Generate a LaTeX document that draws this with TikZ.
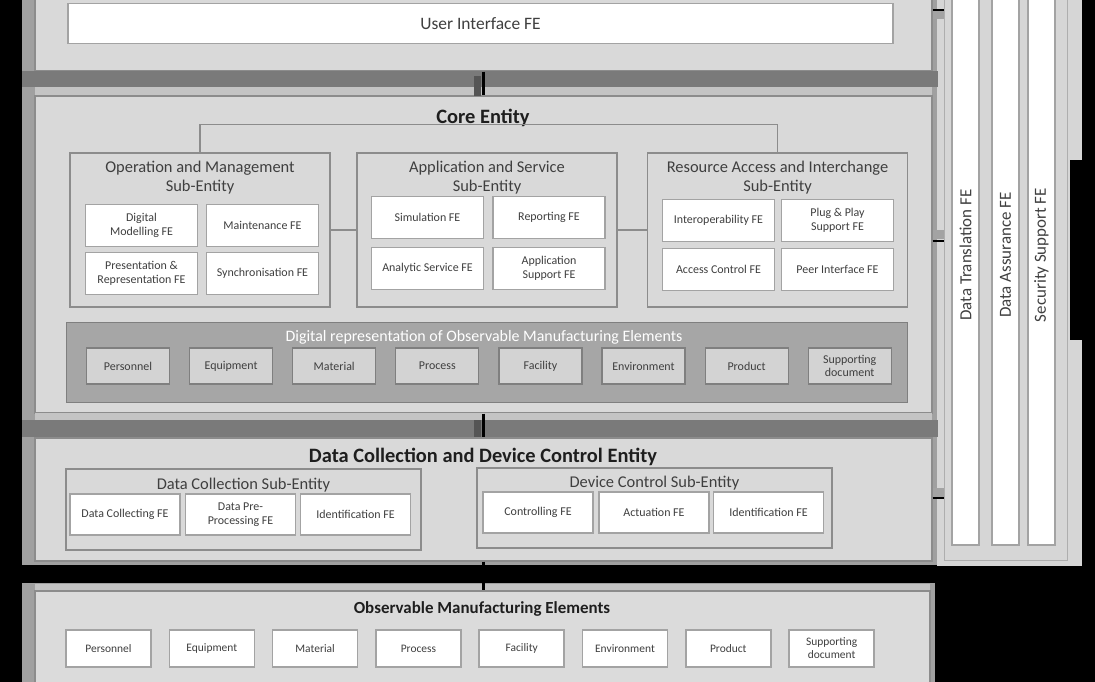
\documentclass[tikz,border=0pt]{standalone}
\usepackage{fontspec}
\setmainfont{Carlito}
\usetikzlibrary{positioning}

\definecolor{panelfill}{HTML}{D9D9D9}
\definecolor{framegray}{HTML}{A0A0A0}
\definecolor{busgray}{HTML}{7A7A7A}
\definecolor{busdark}{HTML}{555555}
\definecolor{edgegray}{HTML}{8C8C8C}
\definecolor{boxgray}{HTML}{A3A3A3}
\definecolor{stripgray}{HTML}{C4C4C4}
\definecolor{drfill}{HTML}{A6A6A6}
\definecolor{drcell}{HTML}{D3D3D3}
\definecolor{drline}{HTML}{7F7F7F}
\definecolor{sidefill}{HTML}{D6D6D6}
\definecolor{txtgray}{HTML}{3F3F3F}
\definecolor{txtdark}{HTML}{1E1E1E}

\begin{document}
\begin{tikzpicture}[x=1bp, y=-1bp,
    panel/.style={draw=edgegray, line width=1.2bp, fill=panelfill, inner sep=0pt},
    sub/.style={draw=edgegray, line width=1.2bp, fill=panelfill, inner sep=0pt},
    fe/.style={draw=boxgray, line width=1.5bp, fill=white, align=center,
      text=txtgray, font=\fontsize{12}{13.5}\selectfont, inner sep=1bp},
    febox/.style={fe, minimum width=112bp, minimum height=42bp},
    dcbox/.style={fe, minimum width=110bp, minimum height=41bp},
    drbox/.style={draw=drline, line width=1.2bp, fill=drcell, align=center,
      text=txtgray, font=\fontsize{12}{13}\selectfont, minimum width=83bp,
      minimum height=36bp, inner sep=1bp},
    omebox/.style={fe, font=\fontsize{11.5}{13}\selectfont,
      minimum width=85bp, minimum height=37bp},
    title/.style={font=\fontsize{20.5}{24}\selectfont\bfseries, text=txtdark},
    subtitle/.style={font=\fontsize{16.5}{20}\selectfont, align=center,
      text=txtgray, inner sep=0pt},
    column/.style={draw=boxgray, line width=1.2bp, fill=white, rotate=90,
      minimum width=580bp, minimum height=27bp, inner sep=0pt, text=txtgray,
      font=\fontsize{17}{20}\selectfont},
    vbus/.style={line width=2.5bp, black},
    tick/.style={line width=2.5bp, black},
    tree/.style={draw=edgegray, line width=1.2bp}]

  \clip (0,0) rectangle (1095,682);
  \fill[black] (0,0) rectangle (1095,682);
  \fill[framegray] (22,-10) rectangle (940,565);
  \fill[sidefill] (937,-10) rectangle (1082,566);
  \draw[edgegray!70] (944,-10) rectangle (1067,560);
  \fill[black] (1070,160) rectangle (1082,340);
  \fill[framegray] (22,583) rectangle (935,690);

  % user interface
  \node[panel, minimum width=897bp, minimum height=81bp] (ui) at (483.5,30.5) {};
  \node[fe, minimum width=825bp, minimum height=40bp,
    font=\fontsize{17.5}{20}\selectfont] (uife) at (480.5,23.5) {User Interface FE};
  \fill[busgray] (22,71) rectangle (938,87);
  \fill[stripgray] (35,87) rectangle (932,96);

  % core
  \node[panel, minimum width=897bp, minimum height=317bp] (core) at (483.5,254.5) {};
  \node[title] (coret) at (483,118) {Core Entity};

  \node[sub, minimum width=260bp, minimum height=154bp] (om) at (200,230) {};
  \node[subtitle, below=8bp of om.north] (omt) {Operation and Management\\Sub-Entity};
  \node[febox] (dm) at (141.5,225.5) {Digital\\Modelling FE};
  \node[febox] (mt) at (262.5,225.5) {Maintenance FE};
  \node[febox] (pr) at (141.5,273.5) {Presentation \&\\Representation FE};
  \node[febox] (sy) at (262.5,273.5) {Synchronisation FE};

  \node[sub, minimum width=260bp, minimum height=154bp] (as) at (487,230) {};
  \node[subtitle, below=8bp of as.north] (ast) {Application and Service\\Sub-Entity};
  \node[febox] (si) at (427.5,217.5) {Simulation FE};
  \node[febox] (rp) at (549,217.5) {Reporting FE};
  \node[febox] (an) at (427.5,268.5) {Analytic Service FE};
  \node[febox] (ap) at (549,268.5) {Application\\Support FE};

  \node[sub, minimum width=260bp, minimum height=154bp] (ra) at (777.5,230) {};
  \node[subtitle, below=8bp of ra.north] (rat) {Resource Access and Interchange\\Sub-Entity};
  \node[febox] (io) at (718.5,220.5) {Interoperability FE};
  \node[febox] (pp) at (837.5,220.5) {Plug \& Play\\Support FE};
  \node[febox] (ac) at (718.5,269.5) {Access Control FE};
  \node[febox] (pi) at (837.5,269.5) {Peer Interface FE};

  \draw[tree] (om.north) -- ++(0,-28) -| (ra.north);
  \draw[tree] (om.east) -- (as.west);
  \draw[tree] (as.east) -- (ra.west);

  \node[draw=drline, line width=1bp, fill=drfill, minimum width=840bp,
    minimum height=80bp, inner sep=0pt] (dr) at (487,362) {};
  \node[text=white, font=\fontsize{16}{18}\selectfont] (drt) at (484,337)
    {Digital representation of Observable Manufacturing Elements};
  \foreach \elem [count=\i from 0] in {Personnel, Equipment, Material, Process,
      Facility, Environment, Product, {Supporting\\document}}
    \node[drbox] (dr\i) at (128+103.1*\i,366) {\elem};

  \fill[stripgray] (35,413) rectangle (932,420);
  \fill[busgray] (22,420) rectangle (938,437);

  % data collection and device control
  \node[panel, minimum width=897bp, minimum height=123bp] (dcdc) at (483.5,499.5) {};
  \node[title] (dcdct) at (483,457) {Data Collection and Device Control Entity};

  \node[sub, minimum width=355bp, minimum height=81bp] (dc) at (243.5,509.5) {};
  \node[subtitle, below=9bp of dc.north] (dct) {Data Collection Sub-Entity};
  \node[dcbox] (dcf) at (125,514.5) {Data Collecting FE};
  \node[dcbox] (dpp) at (240.5,514.5) {Data Pre-\\Processing FE};
  \node[dcbox] (dci) at (355.5,514.5) {Identification FE};

  \node[sub, minimum width=355bp, minimum height=80bp] (dv) at (654.5,508) {};
  \node[subtitle, below=8bp of dv.north] (dvt) {Device Control Sub-Entity};
  \node[dcbox] (ctl) at (538,512.5) {Controlling FE};
  \node[dcbox] (act) at (654,512.5) {Actuation FE};
  \node[dcbox] (dvi) at (768.5,512.5) {Identification FE};

  % observable manufacturing elements
  \fill[stripgray] (35,584) rectangle (930,591);
  \node[panel, fill=panelfill!95!white, minimum width=895bp, minimum height=99bp]
    (ome) at (482.5,640.5) {};
  \node[title, font=\fontsize{17}{20}\selectfont\bfseries] (omet) at (482,609)
    {Observable Manufacturing Elements};
  \foreach \elem [count=\i from 0] in {Personnel, Equipment, Material, Process,
      Facility, Environment, Product, {Supporting\\document}}
    \node[omebox] (ome\i) at (108.5+103.3*\i,648.5) {\elem};

  % side functions
  \node[column] (dt) at (965.5,255) {Data Translation FE};
  \node[column] (da) at (1005.5,255) {Data Assurance FE};
  \node[column] (ss) at (1041.5,255) {Security Support FE};

  % links
  \fill[busdark] (474,76) rectangle (481,96);
  \draw[vbus] (ui.south) -- (core.north);
  \fill[busdark] (474,420) rectangle (481,437);
  \draw[vbus] (core.south) -- (dcdc.north);
  \draw[vbus] (dcdc.south) -- (dcdc.south |- ome.north);

  \coordinate (t1) at (944,10);
  \coordinate (t2) at (944,241);
  \coordinate (t3) at (944,498);
  \fill[boxgray] (933,11) rectangle (944,19);
  \fill[boxgray] (933,230) rectangle (944,239);
  \fill[boxgray] (933,488) rectangle (944,497);
  \draw[tick] (t1 -| ui.east) -- (t1);
  \draw[tick] (t2 -| core.east) -- (t2);
  \draw[tick] (t3 -| dcdc.east) -- (t3);
\end{tikzpicture}
\end{document}
